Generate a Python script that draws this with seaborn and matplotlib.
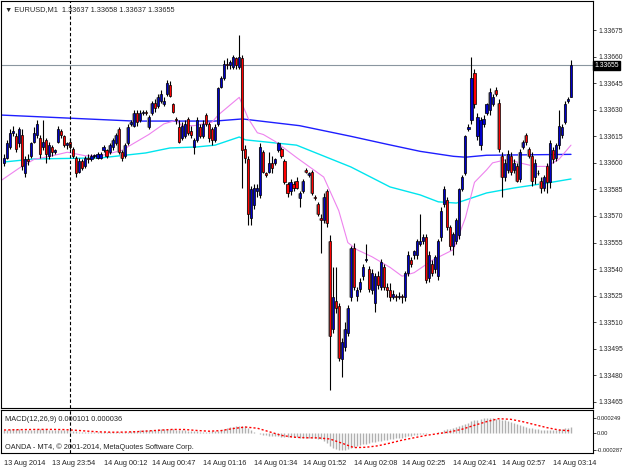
import numpy as np
import pandas as pd
import seaborn as sns
import matplotlib.pyplot as plt

# EURUSD M1 candles, prices in points above 1.33000 (1 point = 0.00001)
opens = [600, 603, 609, 617, 615, 611, 616, 594, 602, 604, 612, 616, 614, 609, 613, 604, 609, 606, 612, 618,
         615, 610, 612, 608, 603, 595, 601, 598, 603, 602, 604, 603, 603,
         607, 607, 606, 609, 611, 619, 606, 604, 611, 622, 621, 628, 624, 628, 629, 620, 628, 634,
         632, 635, 633, 639, 644, 633, 625, 620, 614, 615, 625, 618, 609, 613,
         620, 615, 627, 622, 619, 613, 622, 643, 648, 656, 655, 654, 659, 654, 659, 608,
         602, 569, 576, 584, 582, 606, 594, 595, 600, 600, 607, 608, 601, 588, 584, 588, 590,
         580, 584, 596, 593, 595, 581, 577, 569, 568, 584, 556, 506, 522, 519, 489, 496, 504,
         524, 552, 525, 529, 536, 545, 540, 528, 521, 536, 530, 541, 530, 528, 524,
         525, 524, 525, 524, 538, 545, 548, 548, 554, 556, 558, 535, 543, 540, 536, 558, 577,
         579, 564, 553, 556, 559, 585, 594,
         619, 624, 651, 615, 610, 622, 628, 630, 633, 641, 634, 604, 592, 596, 604, 596, 598,
         591, 609, 616, 608, 604, 592, 594, 590, 586, 598, 589, 607, 603, 610, 616, 623, 635, 637]
highs = [605, 613, 619, 621, 617, 620, 619, 604, 605, 612, 620, 624, 616, 624, 614, 612, 610, 608, 621, 619,
         616, 612, 614, 609, 604, 603, 602, 604, 605, 605, 605, 606, 606,
         610, 608, 611, 614, 617, 620, 607, 611, 622, 624, 630, 630, 630, 630, 630, 627, 635, 636,
         639, 641, 637, 647, 646, 634, 626, 624, 623, 624, 626, 621, 614, 626,
         622, 624, 628, 623, 620, 622, 643, 649, 658, 659, 658, 661, 660, 672, 661, 610,
         604, 587, 588, 588, 611, 607, 595, 606, 604, 603, 612, 609, 602, 589, 591, 590, 592,
         584, 591, 597, 595, 596, 582, 578, 571, 583, 585, 559, 541, 541, 521, 501, 510, 520,
         553, 555, 530, 535, 543, 554, 542, 540, 538, 539, 546, 543, 532, 532, 528,
         526, 527, 526, 539, 550, 547, 551, 557, 571, 560, 560, 550, 545, 548, 557, 575, 587,
         581, 565, 561, 569, 586, 593, 616,
         622, 660, 653, 628, 626, 627, 634, 642, 639, 643, 636, 606, 602, 607, 606, 602, 600,
         608, 613, 617, 609, 606, 602, 596, 592, 593, 600, 613, 609, 611, 630, 622, 635, 637, 658]
lows = [598, 602, 608, 615, 606, 609, 596, 592, 599, 603, 611, 614, 603, 607, 600, 602, 604, 605, 611, 614,
        609, 608, 608, 603, 592, 594, 596, 597, 600, 601, 603, 602, 602,
        606, 603, 605, 607, 610, 605, 601, 603, 610, 621, 620, 621, 623, 627, 627, 619, 627, 629,
        631, 634, 632, 638, 637, 628, 622, 611, 613, 614, 616, 614, 605, 612,
        614, 614, 621, 612, 610, 612, 621, 642, 647, 653, 653, 653, 653, 653, 586, 600,
        565, 565, 574, 581, 580, 594, 592, 594, 594, 599, 606, 603, 588, 581, 582, 584, 585,
        575, 583, 594, 592, 582, 579, 570, 549, 566, 564, 472, 504, 515, 488, 479, 494, 502,
        522, 528, 522, 527, 534, 544, 527, 526, 516, 529, 528, 528, 524, 522, 523,
        522, 523, 521, 522, 536, 541, 546, 546, 553, 554, 532, 533, 536, 538, 534, 556, 575,
        562, 551, 548, 554, 557, 584, 593,
        618, 622, 631, 613, 607, 620, 627, 627, 632, 638, 606, 581, 590, 594, 593, 594, 589,
        589, 608, 610, 603, 587, 588, 593, 583, 584, 583, 586, 600, 601, 608, 614, 622, 634, 637]
closes = [603, 611, 617, 618, 608, 619, 598, 602, 601, 611, 617, 622, 605, 612, 605, 610, 606, 607, 619, 616,
          610, 611, 609, 604, 594, 601, 597, 603, 602, 604, 604, 605, 605,
          609, 604, 610, 613, 616, 606, 603, 610, 620, 623, 628, 623, 628, 629, 628, 626, 634, 631,
          637, 639, 635, 645, 638, 629, 624, 612, 621, 622, 617, 616, 613, 624,
          615, 622, 622, 614, 613, 620, 642, 648, 656, 655, 657, 660, 655, 660, 607, 603,
          571, 585, 586, 586, 609, 595, 593, 600, 597, 602, 611, 604, 589, 583, 589, 586, 586,
          583, 590, 595, 594, 583, 580, 571, 568, 581, 566, 502, 524, 518, 490, 499, 506, 518,
          552, 530, 528, 533, 541, 546, 529, 538, 536, 531, 544, 530, 528, 524, 526,
          524, 525, 524, 538, 548, 543, 550, 556, 556, 558, 534, 548, 538, 547, 556, 573, 585,
          564, 553, 560, 568, 585, 592, 615,
          620, 648, 633, 626, 624, 625, 633, 640, 637, 639, 608, 592, 600, 605, 595, 600, 590,
          606, 612, 612, 604, 590, 600, 594, 586, 592, 589, 611, 602, 610, 621, 620, 633, 636, 655]

# moving averages (bar index, points)
slow_idx = [-1, 21, 43, 70, 79, 98, 115, 127, 138, 149, 153, 160, 188]
slow_val = [627, 625.3, 623.6, 623.6, 624.8, 621, 615, 610.5, 606.5, 603.7, 603.2, 604.3, 604.8]
mid_idx = [0, 10, 32, 47, 55, 64, 70, 78, 80, 97, 115, 128, 138, 144, 150, 156, 160, 169, 180, 188]
mid_val = [600.5, 602.2, 602.8, 605.6, 608.4, 609, 610, 614.6, 613, 610, 597.7, 586.4, 581.9, 578,
           577.3, 580.7, 583, 585.8, 588.6, 590.9]
fast_idx = [-1, 5, 10, 16, 21, 27, 32, 39, 48, 53, 57, 59, 63, 69, 71, 78, 79, 81, 84, 86, 90, 97,
            106, 111, 114, 117, 122, 128, 132, 136, 142, 149, 153, 156, 160, 162, 167, 171, 176, 180, 184, 188]
fast_val = [590, 597, 602, 604, 606, 604, 604, 607, 616, 622, 624, 621, 621, 623, 627, 637, 633, 625,
            617, 616, 612, 603, 592, 573, 555, 551, 547, 541, 536, 538, 545, 551, 569, 589, 596, 600,
            602, 600, 598, 598, 602, 610]

# MACD(12,26,9) main values per bar and signal, in millionths
macd_main = [55, 58, 62, 65, 66, 64, 58, 55, 52, 54, 58, 62, 66, 65, 60, 57, 55, 54, 56, 58, 55,
             50, 45, 38, 30, 24, 20, 16, 13, 12, 11, 10, 10, 11, 12, 13, 15, 18, 16, 14, 15, 20, 26,
             32, 38, 42, 45, 47, 48, 52, 57, 62, 66, 70, 72, 70, 64, 56, 50, 45, 42,
             38, 34, 30, 26, 25, 24, 22, 24, 26, 28,
             40, 55, 70, 85, 97, 106, 112, 118, 122, 110,
             80, 45, 15, -5, -20, -30, -38, -45, -50, -55, -58, -60, -62, -66, -70, -72, -74, -76,
             -78, -82, -85, -88, -90, -95,
             -105, -135, -175, -215, -250, -272, -284, -287, -283, -272, -258,
             -240, -222, -205, -190, -178, -168, -158, -150, -140, -132, -124, -116, -108, -100,
             -92, -84, -76, -68, -58, -48, -38, -30,
             -22, -15, -10, -6, -2, 3, 10,
             25, 45, 60, 72, 82, 95, 110, 128, 150, 172, 195, 212, 226, 237, 244, 248, 249, 247, 242, 235,
             225, 210, 195, 180, 162, 145, 130, 115, 102, 90, 80, 70, 62, 55, 50, 46, 44,
             48, 54, 62, 72, 82, 92, 101]
sig_idx = list(range(0, 189, 4))
sig_val = [50, 55, 58, 60, 60, 57, 45, 30, 18, 13, 15, 22, 35, 48, 60, 58, 42, 30, 40, 75,
           100, 80, 20, -40, -70, -80, -82, -100, -170, -245, -240, -215, -170, -120, -80, -40,
           -10, 20, 65, 130, 190, 240, 230, 190, 140, 90, 50, 36]

tick_bars = [0, 16, 33, 49, 66, 83, 99, 116, 132, 149, 165, 182]
tick_text = ["13 Aug 2014", "13 Aug 23:54", "14 Aug 00:12", "14 Aug 00:47", "14 Aug 01:16",
             "14 Aug 01:34", "14 Aug 01:52", "14 Aug 02:08", "14 Aug 02:25", "14 Aug 02:41",
             "14 Aug 02:57", "14 Aug 03:14"]

sns.set_style("white")
plt.rcParams['font.family'] = ['Liberation Sans', 'DejaVu Sans']
fs = 5.3
fs_axis = 4.9

pt = 0.00001
o = 1.33 + np.array(opens) * pt
h = 1.33 + np.array(highs) * pt
l = 1.33 + np.array(lows) * pt
c = 1.33 + np.array(closes) * pt
x = np.arange(len(c))
bid = c[-1]

fig = plt.figure(figsize=(6.25, 4.69), dpi=100)
ax = fig.add_axes([0.0016, 0.1301, 0.9472, 0.8678])
axm = fig.add_axes([0.0016, 0.0341, 0.9472, 0.0917])

# candles
up = c >= o
cols = np.where(up, '#0000c8', '#ff0000')
ax.vlines(x, l, h, color='black', lw=0.8, zorder=3)
ax.vlines(x - 0.45, np.minimum(o, c), np.maximum(o, c), color='#a0a0a0', lw=0.8, zorder=3)
ax.bar(x, np.maximum(np.abs(c - o), 0.000004), bottom=np.minimum(o, c), width=0.7,
       color=cols, edgecolor='black', linewidth=0.5, zorder=4)

sns.lineplot(x=slow_idx, y=1.33 + np.array(slow_val) * pt, ax=ax, color='#1e1eff', lw=1, zorder=2)
sns.lineplot(x=mid_idx, y=1.33 + np.array(mid_val) * pt, ax=ax, color='#00e5ee', lw=1, zorder=2)
sns.lineplot(x=fast_idx, y=1.33 + np.array(fast_val) * pt, ax=ax, color='#ee82ee', lw=0.8, zorder=2)

ax.axhline(bid, color='#8a96a0', lw=0.8, zorder=1)
for a in (ax, axm):
    a.axvline(22, color='black', ls=(0, (3, 2)), lw=0.8, zorder=5)
    a.set_xlim(-1, 195.3)
    for s in a.spines.values():
        s.set_color('black')
        s.set_linewidth(0.8)

ax.set_ylim(1.334616, 1.336914)
yt = 1.33 + np.arange(465, 676, 15) * pt
ax.set_yticks(yt)
ax.set_yticklabels([f"{v:.5f}" for v in yt])
ax.yaxis.tick_right()
ax.tick_params(axis='y', direction='out', length=2.5, width=0.6, labelsize=fs_axis, pad=1.5)
ax.set_xticks([])
ax.text(1.002, bid, f"{bid:.5f}", transform=ax.get_yaxis_transform(), ha='left', va='center',
        fontsize=fs_axis, color='white',
        bbox=dict(boxstyle='square,pad=0.2', fc='black', ec='black'))
ax.text(0.006, 0.978, "\u25BC EURUSD,M1  1.33637 1.33658 1.33637 1.33655", transform=ax.transAxes,
        ha='left', va='center', fontsize=fs)

# MACD panel
axm.vlines(x, 0, np.array(macd_main) * 1e-6, color='#b0b0b0', lw=1, zorder=2)
sns.lineplot(x=sig_idx, y=np.array(sig_val) * 1e-6, ax=axm, color='red', lw=1,
             linestyle=(0, (1.5, 1.5)), zorder=3)
axm.set_ylim(-0.000336, 0.000386)
axm.set_yticks([0.000249, 0, -0.000287])
axm.set_yticklabels(["0.000249", "0.00", "-0.000287"])
axm.yaxis.tick_right()
axm.tick_params(axis='y', direction='out', length=2, width=0.6, labelsize=4.2, pad=1)
axm.set_xticks(tick_bars)
axm.set_xticklabels(tick_text)
axm.tick_params(axis='x', direction='out', length=4, width=0.6, labelsize=fs, pad=1)
for lbl in axm.get_xticklabels():
    lbl.set_horizontalalignment('left')
axm.text(0.006, 0.77, "MACD(12,26,9) 0.000101 0.000036", transform=axm.transAxes,
         ha='left', va='center', fontsize=fs)
axm.text(0.006, 0.14, "OANDA - MT4, \u00A9 2001-2014, MetaQuotes Software Corp.", transform=axm.transAxes,
         ha='left', va='center', fontsize=fs)
axm.set_xlabel('')
axm.set_ylabel('')
ax.set_xlabel('')
ax.set_ylabel('')

fig.savefig('out.png', dpi=100)
